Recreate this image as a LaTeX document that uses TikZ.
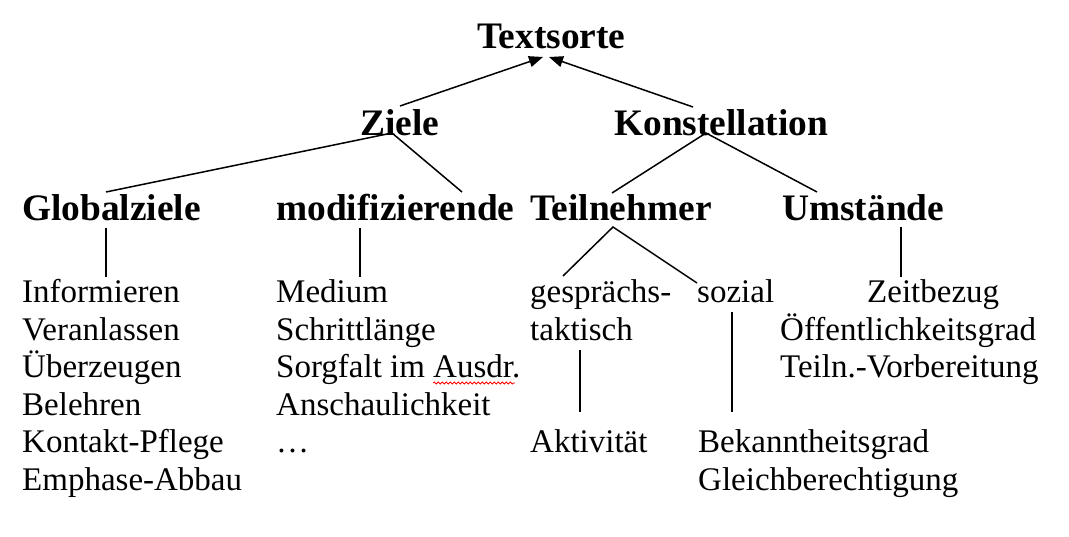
\documentclass[tikz,border=0pt]{standalone}
\usepackage{fontspec}
\setmainfont{Liberation Serif}
\usetikzlibrary{arrows.meta,decorations.pathmorphing}
\begin{document}
\begin{tikzpicture}[x=1pt,y=-1pt,
  head/.style={inner sep=0pt,anchor=base west,font=\fontsize{37.4}{40}\selectfont\bfseries},
  body/.style={inner sep=0pt,anchor=base west,font=\fontsize{33}{37.5}\selectfont},
  conn/.style={line width=1.5pt},
  arr/.style={conn,-{Triangle[length=14pt,width=11pt]}}]
\fill[white] (0,0) rectangle (1069,537);
\useasboundingbox (0,0) rectangle (1069,537);
% headings
\node[head] (textsorte) at (477,49) {Textsorte};
\node[head] (ziele) at (360,136) {Ziele};
\node[head] (konst) at (614,136) {Konstellation};
\node[head] (global) at (22,221) {Globalziele};
\node[head] (modif) at (276,221) {modifizierende};
\node[head] (teiln) at (530,221) {Teilnehmer};
\node[head] (umst) at (782,221) {Umstände};
% body columns
\foreach \t [count=\i from 0] in {Informieren,Veranlassen,Überzeugen,Belehren,Kontakt-Pflege,Emphase-Abbau}
  \node[body] (g\i) at (22,303+37.5*\i) {\t};
\foreach \t [count=\i from 0] in {Medium,Schrittlänge,Sorgfalt im Ausdr.,Anschaulichkeit,…}
  \node[body] (m\i) at (276,303+37.5*\i) {\t};
\node[body] (gespr) at (530,303) {gesprächs-};
\node[body] (takt) at (530,340.5) {taktisch};
\node[body] (sozial) at (697,303) {sozial};
\node[body] (aktiv) at (530,453) {Aktivität};
\node[body] (bekannt) at (698,453) {Bekanntheitsgrad};
\node[body] (gleich) at (698,490.5) {Gleichberechtigung};
\node[body] (zeit) at (867,303) {Zeitbezug};
\node[body] (oeff) at (780,340.5) {Öffentlichkeitsgrad};
\node[body] (vorb) at (780,378) {Teiln.-Vorbereitung};
% connector end points
\coordinate (tsL) at (543,57);
\coordinate (tsR) at (549,57);
\coordinate (zT) at (400,106);
\coordinate (kT) at (693,107);
\coordinate (zB) at (392,133);
\coordinate (kB) at (706,133);
\coordinate (glT) at (106,192);
\coordinate (moT) at (462,192);
\coordinate (teT) at (612,193);
\coordinate (umT) at (817,192);
\coordinate (glB) at (106,228);
\coordinate (glE) at (106,277);
\coordinate (moB) at (360,228);
\coordinate (moE) at (360,277);
\coordinate (teB) at (613,227);
\coordinate (geT) at (563,276);
\coordinate (soT) at (697,283);
\coordinate (umB) at (901,227);
\coordinate (umE) at (901,277);
\coordinate (geB) at (580,350);
\coordinate (geE) at (580,412);
\coordinate (soB) at (732,312);
\coordinate (soE) at (732,412);
% connectors
\draw[arr] (zT) -- (tsL);
\draw[arr] (kT) -- (tsR);
\draw[conn] (glT) -- (zB) -- (moT);
\draw[conn] (teT) -- (kB) -- (umT);
\draw[conn] (glB) -- (glE);
\draw[conn] (moB) -- (moE);
\draw[conn] (geT) -- (teB) -- (soT);
\draw[conn] (umB) -- (umE);
\draw[conn] (geB) -- (geE);
\draw[conn] (soB) -- (soE);
% spell-check underline
\coordinate (wavL) at (433,383);
\coordinate (wavR) at (515,383);
\draw[red,line width=0.8pt,decorate,decoration={snake,amplitude=1pt,segment length=4pt}] (wavL) -- (wavR);
\end{tikzpicture}
\end{document}
